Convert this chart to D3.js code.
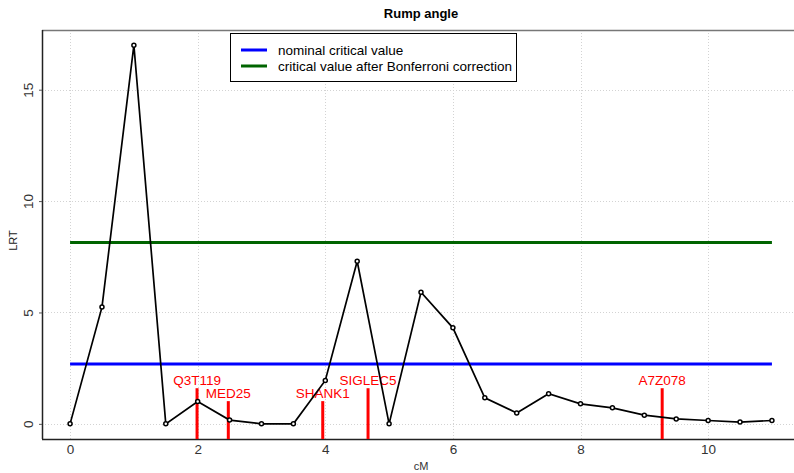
<!DOCTYPE html>
<html>
<head>
<meta charset="utf-8">
<script src="https://cdn.jsdelivr.net/npm/d3@7"></script>
<style>
  html, body { margin: 0; padding: 0; background: #fff; }
  svg { display: block; font-family: "Liberation Sans", Arial, sans-serif; }
</style>
</head>
<body>
<svg id="chart" width="794" height="473"></svg>
<script>
// Position along the chromosome (cM) and likelihood-ratio test statistic
const positions = [0, 0.5, 1, 1.5, 2, 2.5, 3, 3.5, 4, 4.5, 5, 5.5, 6, 6.5, 7, 7.5, 8, 8.5, 9, 9.5, 10, 10.5, 11];
const lrt = [0, 5.24, 17.0, 0, 1.0, 0.17, 0, 0, 1.95, 7.3, 0, 5.91, 4.31, 1.17, 0.49, 1.35, 0.9, 0.72, 0.39, 0.22, 0.15, 0.08, 0.15];

// Thresholds
const thresholdNames = ["nominal critical value", "critical value after Bonferroni correction"];
const thresholdValues = [2.69, 8.14];
const thresholdColors = ["#0000ff", "#006400"];

// Candidate genes
const geneNames = ["Q3T119", "MED25", "SHANK1", "SIGLEC5", "A7Z078"];
const genePositions = [1.99, 2.48, 3.96, 4.67, 9.28];
const geneHeights = [1.6, 1.02, 1.02, 1.6, 1.6];

const xTicks = [0, 2, 4, 6, 8, 10];
const yTicks = [0, 5, 10, 15];

const svg = d3.select("#chart");
const plotLeft = 42, plotRight = 800, plotTop = 30, plotBottom = 439;

const x = d3.scaleLinear().domain([-0.44, 11.44]).range([plotLeft, plotRight]);
const y = d3.scaleLinear().domain([-0.68, 17.68]).range([plotBottom, plotTop]);

// Title
svg.append("text").attr("x", (plotLeft + plotRight) / 2).attr("y", 18)
  .attr("text-anchor", "middle").attr("font-weight", "bold").attr("font-size", 13)
  .text("Rump angle");

// Grid
const grid = svg.append("g").attr("stroke", "#d3d3d3").attr("stroke-dasharray", "1,2").attr("stroke-width", 1);
grid.selectAll("line.v").data(xTicks).join("line").attr("class", "v")
  .attr("x1", d => Math.round(x(d)) + 0.5).attr("x2", d => Math.round(x(d)) + 0.5)
  .attr("y1", plotTop).attr("y2", plotBottom);
grid.selectAll("line.h").data(yTicks).join("line").attr("class", "h")
  .attr("y1", d => Math.round(y(d)) + 0.5).attr("y2", d => Math.round(y(d)) + 0.5)
  .attr("x1", plotLeft).attr("x2", plotRight);

// Frame: top border and axes
svg.append("line").attr("x1", plotLeft).attr("x2", 794).attr("y1", plotTop + 0.5).attr("y2", plotTop + 0.5)
  .attr("stroke", "#777").attr("stroke-width", 1.5);

const xAxis = d3.axisBottom(x).tickValues(xTicks).tickSize(0).tickPadding(5).tickFormat(d3.format("d"));
const gx = svg.append("g").attr("transform", `translate(0,${plotBottom})`).call(xAxis);
gx.select(".domain").attr("stroke", "#222").attr("stroke-width", 1.5).attr("d", `M${plotLeft},0.5H794`);
gx.selectAll("text").attr("font-size", 13.5).attr("fill", "#333").attr("font-family", "Liberation Sans, Arial, sans-serif");

const yAxis = d3.axisLeft(y).tickValues(yTicks).tickSize(3).tickPadding(4).tickFormat(d3.format("d"));
const gy = svg.append("g").attr("transform", `translate(${plotLeft},0)`).call(yAxis);
gy.select(".domain").attr("stroke", "#222").attr("stroke-width", 1.5).attr("d", `M0.5,${plotTop}V${plotBottom}`);
gy.selectAll(".tick line").attr("stroke", "#555");
gy.selectAll("text").attr("font-size", 13.5).attr("fill", "#333").attr("font-family", "Liberation Sans, Arial, sans-serif")
  .attr("text-anchor", "middle").attr("x", 0).attr("y", 0).attr("dy", "0")
  .attr("transform", "translate(-9,0) rotate(-90)");

// Axis titles
svg.append("text").attr("transform", `translate(17,${(plotTop + plotBottom) / 2 + 6}) rotate(-90)`)
  .attr("text-anchor", "middle").attr("font-size", 11).attr("fill", "#222").text("LRT");
svg.append("text").attr("x", (plotLeft + plotRight) / 2).attr("y", 470)
  .attr("text-anchor", "middle").attr("font-size", 11).attr("fill", "#333").text("cM");

// Threshold lines
svg.selectAll("line.thr").data(thresholdValues).join("line").attr("class", "thr")
  .attr("x1", x(0)).attr("x2", x(11))
  .attr("y1", d => y(d)).attr("y2", d => y(d))
  .attr("stroke", (d, i) => thresholdColors[i]).attr("stroke-width", 3);

// Gene markers
const genes = geneNames.map((n, i) => ({ name: n, pos: genePositions[i], h: geneHeights[i] }));
svg.selectAll("line.gene").data(genes).join("line").attr("class", "gene")
  .attr("x1", d => x(d.pos)).attr("x2", d => x(d.pos))
  .attr("y1", plotBottom).attr("y2", d => y(d.h))
  .attr("stroke", "#ff0000").attr("stroke-width", 3);
svg.selectAll("text.gene").data(genes).join("text").attr("class", "gene")
  .attr("x", d => x(d.pos)).attr("y", d => y(d.h) - 3)
  .attr("text-anchor", "middle").attr("font-size", 13.5).attr("fill", "#ff0000")
  .text(d => d.name);

// LRT profile
const pts = positions.map((p, i) => [p, lrt[i]]);
svg.append("path").datum(pts)
  .attr("d", d3.line().x(d => x(d[0])).y(d => y(d[1])))
  .attr("fill", "none").attr("stroke", "#000").attr("stroke-width", 1.7);
svg.selectAll("circle.pt").data(pts).join("circle").attr("class", "pt")
  .attr("cx", d => x(d[0])).attr("cy", d => y(d[1])).attr("r", 2)
  .attr("fill", "#fff").attr("stroke", "#000").attr("stroke-width", 1.5);

// Legend
const lg = svg.append("g");
lg.append("rect").attr("x", 230.5).attr("y", 33.5).attr("width", 286).attr("height", 48)
  .attr("fill", "#fff").attr("stroke", "#000").attr("stroke-width", 1);
thresholdNames.forEach((n, i) => {
  const yy = 50 + i * 16;
  lg.append("line").attr("x1", 241).attr("x2", 267).attr("y1", yy).attr("y2", yy)
    .attr("stroke", thresholdColors[i]).attr("stroke-width", 3);
  lg.append("text").attr("x", 278).attr("y", yy + 4.5).attr("font-size", 13.5).attr("fill", "#000").text(n);
});
</script>
</body>
</html>
